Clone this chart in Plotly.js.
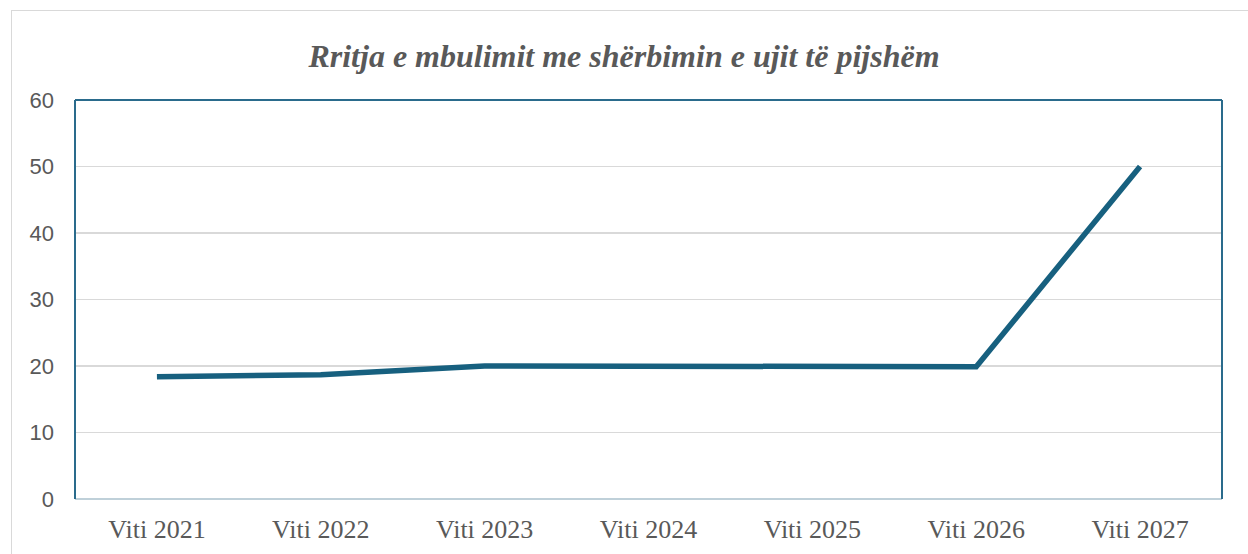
<!DOCTYPE html>
<html><head><meta charset="utf-8">
<script src="https://cdn.plot.ly/plotly-3.0.1.min.js"></script>
<style>
html,body{margin:0;padding:0;background:#fff;}
#frame{position:absolute;left:11px;top:10px;width:1237px;height:544px;border-left:1.5px solid #d9d9d9;border-top:1.5px solid #d9d9d9;box-sizing:border-box;pointer-events:none;z-index:5;}
#chart{position:absolute;left:0;top:0;width:1248px;height:554px;}
</style>
</head><body>
<div id="chart"></div>
<div id="frame"></div>
<script>
const categories = ["Viti 2021","Viti 2022","Viti 2023","Viti 2024","Viti 2025","Viti 2026","Viti 2027"];
const coverage = [18.4, 18.7, 20.0, 19.9, 19.9, 19.9, 50.0];
const yTicks = [0,10,20,30,40,50,60];
const titleText = "Rritja e mbulimit me shërbimin e ujit të pijshëm";

const teal = "#2a6b8c";
const trace = {
  x: categories, y: coverage, type: "scatter", mode: "lines",
  line: {color: "#17607f", width: 5.5},
  hoverinfo: "skip"
};
const layout = {
  width: 1248, height: 554,
  margin: {l: 75, r: 26, t: 100, b: 55},
  paper_bgcolor: "#ffffff", plot_bgcolor: "#ffffff",
  showlegend: false,
  title: {text: "<b><i>" + titleText + "</i></b>", x: 0.5, xanchor: "center", y: 0.9, yanchor: "middle", yref: "container",
          font: {family: "Liberation Serif, Times New Roman, serif", size: 32, color: "#595959"}},
  xaxis: {type: "category", range: [-0.5, 6.5], showgrid: false, zeroline: false, showline: false,
          ticks: "", ticklabelstandoff: 12,
          tickfont: {family: "Liberation Serif, Times New Roman, serif", size: 26, color: "#595959"}},
  yaxis: {range: [0, 60], tickvals: yTicks, ticktext: yTicks.map(String), showgrid: true, gridcolor: "#d9d9d9", gridwidth: 1.5,
          zeroline: false, showline: false, ticks: "", ticklabelstandoff: 20,
          tickfont: {family: "Liberation Sans, Arial, sans-serif", size: 22, color: "#595959"}},
  shapes: [
    {type: "line", xref: "paper", yref: "paper", x0: 0, x1: 1, y0: 0, y1: 0, line: {color: "#bfd0d9", width: 2}},
    {type: "line", xref: "paper", yref: "paper", x0: 0, x1: 0, y0: 0, y1: 1, line: {color: teal, width: 2}},
    {type: "line", xref: "paper", yref: "paper", x0: 0, x1: 1, y0: 1, y1: 1, line: {color: teal, width: 2}},
    {type: "line", xref: "paper", yref: "paper", x0: 1, x1: 1, y0: 0, y1: 1, line: {color: teal, width: 2}}
  ]
};
Plotly.newPlot("chart", [trace], layout, {displayModeBar: false, staticPlot: true});
</script>
</body></html>
